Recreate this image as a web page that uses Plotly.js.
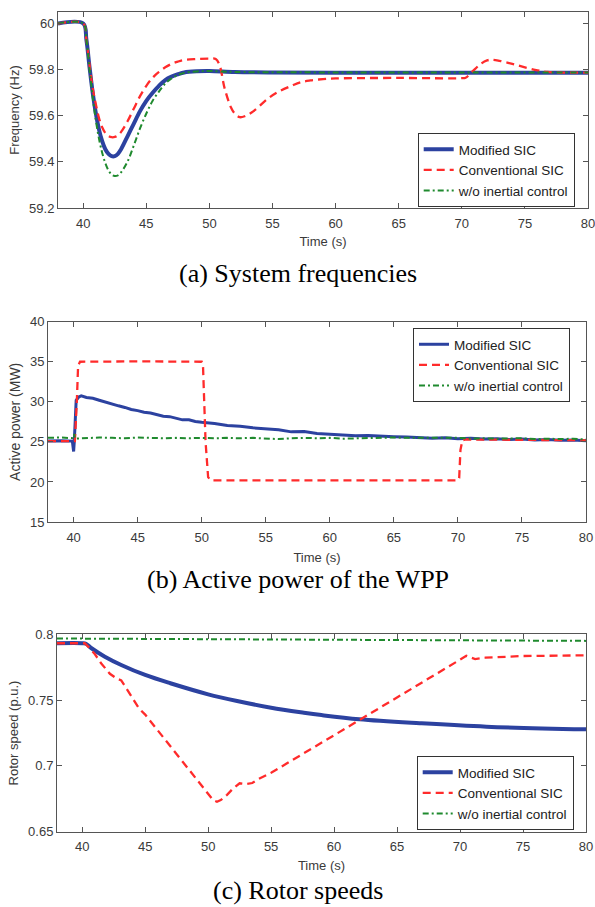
<!DOCTYPE html>
<html>
<head>
<meta charset="utf-8">
<script src="https://cdn.plot.ly/plotly-3.0.1.min.js"></script>
<style>
  html, body { margin: 0; padding: 0; background: #fff; }
  #chart { width: 595px; height: 907px; }
</style>
</head>
<body>
<div id="chart"></div>
<script>
// ---------- Series names ----------
const seriesNames = ["Modified SIC", "Conventional SIC", "w/o inertial control"];
const captions = ["(a) System frequencies", "(b) Active power of the WPP", "(c) Rotor speeds"];
const xTicks = [40, 45, 50, 55, 60, 65, 70, 75, 80];

// ---------- (a) System frequencies (Hz) ----------
const fModT = [38, 40, 40.25, 40.5, 40.75, 41, 41.25, 41.5, 41.75, 42, 42.25, 42.5, 42.75, 43, 43.5, 44, 44.5, 45, 45.5, 46, 46.5, 47, 47.5, 48, 49, 50, 52, 55, 60, 70, 80];
const fModV = [60, 60, 59.93, 59.81, 59.70, 59.61, 59.54, 59.49, 59.455, 59.435, 59.425, 59.425, 59.435, 59.455, 59.51, 59.565, 59.62, 59.665, 59.70, 59.73, 59.755, 59.77, 59.78, 59.788, 59.793, 59.794, 59.79, 59.788, 59.787, 59.787, 59.787];

const fConT = [38, 40, 40.25, 40.5, 40.75, 41, 41.25, 41.5, 41.75, 42, 42.25, 42.5, 42.75, 43, 43.5, 44, 44.5, 45, 45.5, 46, 46.5, 47, 47.5, 48, 49, 50, 50.5, 50.8, 51.2, 51.7, 52, 52.4, 52.8, 53.5, 54.6, 55.5, 56.5, 57.2, 58, 59, 60, 65, 70, 70.3, 70.8, 71.5, 72, 72.4, 73, 74, 75, 76, 76.8, 78, 80];
const fConV = [60, 60, 59.93, 59.82, 59.72, 59.65, 59.59, 59.55, 59.525, 59.512, 59.507, 59.508, 59.515, 59.53, 59.575, 59.63, 59.685, 59.73, 59.765, 59.79, 59.81, 59.825, 59.835, 59.842, 59.846, 59.848, 59.846, 59.82, 59.72, 59.637, 59.61, 59.594, 59.598, 59.62, 59.673, 59.705, 59.73, 59.745, 59.753, 59.759, 59.762, 59.764, 59.763, 59.765, 59.79, 59.825, 59.84, 59.843, 59.838, 59.825, 59.81, 59.797, 59.79, 59.787, 59.787];

const fNoT = [38, 40, 40.25, 40.5, 40.75, 41, 41.25, 41.5, 41.75, 42, 42.25, 42.5, 42.75, 43, 43.5, 44, 44.5, 45, 45.5, 46, 46.5, 47, 47.5, 48, 49, 50, 52, 60, 70, 80];
const fNoV = [60, 60, 59.93, 59.80, 59.68, 59.58, 59.50, 59.44, 59.395, 59.363, 59.345, 59.339, 59.342, 59.355, 59.40, 59.47, 59.545, 59.61, 59.665, 59.705, 59.74, 59.762, 59.777, 59.786, 59.792, 59.794, 59.79, 59.788, 59.788, 59.788];

// ---------- (b) Active power of the WPP (MW) ----------
const pModT = [38, 39, 39.9, 40.0, 40.05, 40.2, 40.4, 40.6, 41, 41.5, 42, 42.5, 43, 43.5, 44, 44.5, 45, 45.5, 46, 46.5, 47, 47.5, 48, 48.5, 49, 49.5, 50, 51, 52, 53, 54, 55, 56, 57, 58, 59, 60, 61, 62, 63, 64, 65, 66, 67, 68, 69, 70, 71, 72, 73, 74, 75, 76, 77, 78, 79, 80];
const pModV = [25.1, 25.15, 25.1, 23.8, 25.0, 30.2, 30.6, 30.75, 30.55, 30.45, 30.2, 29.95, 29.7, 29.5, 29.3, 29.05, 28.9, 28.7, 28.6, 28.4, 28.2, 28.15, 27.95, 27.75, 27.75, 27.55, 27.45, 27.3, 27.05, 26.95, 26.75, 26.65, 26.5, 26.25, 26.3, 26.05, 25.95, 25.9, 25.75, 25.8, 25.7, 25.65, 25.6, 25.55, 25.45, 25.5, 25.4, 25.45, 25.35, 25.4, 25.3, 25.35, 25.25, 25.3, 25.2, 25.25, 25.15];

const pConT = [38, 40.1, 40.25, 40.35, 40.5, 45, 50, 50.1, 50.3, 50.5, 50.7, 60, 70, 70.1, 70.2, 70.35, 70.6, 80];
const pConV = [25.1, 25.1, 30, 34.5, 35, 35.05, 35.0, 34.5, 25, 20.6, 20.2, 20.2, 20.2, 20.5, 24, 25.2, 25.3, 25.2];

const pNoT = [38, 39, 40, 40.05, 40.1, 41, 42, 43, 44, 45, 46, 47, 48, 49, 50, 51, 52, 53, 54, 55, 56, 57, 58, 59, 60, 61, 62, 63, 64, 65, 66, 67, 68, 69, 70, 71, 72, 73, 74, 75, 76, 77, 78, 79, 80];
const pNoV = [25.5, 25.55, 25.45, 26.0, 25.4, 25.5, 25.55, 25.5, 25.45, 25.55, 25.5, 25.45, 25.5, 25.45, 25.5, 25.45, 25.5, 25.45, 25.5, 25.4, 25.35, 25.45, 25.5, 25.45, 25.5, 25.4, 25.45, 25.5, 25.5, 25.55, 25.5, 25.5, 25.45, 25.45, 25.5, 25.4, 25.45, 25.4, 25.4, 25.45, 25.35, 25.4, 25.35, 25.4, 25.3];

// ---------- (c) Rotor speeds (p.u.) ----------
const wModT = [38, 40, 40.3, 40.74, 41.8, 43.1, 45, 47, 50, 52.3, 55, 57.6, 59, 62, 66.8, 72.1, 80];
const wModV = [0.7932, 0.7932, 0.7928, 0.7894, 0.783, 0.7767, 0.7691, 0.7628, 0.7544, 0.7493, 0.7442, 0.7404, 0.7386, 0.7354, 0.7324, 0.7298, 0.7278];

const wConT = [38, 40.2, 40.6, 41, 41.5, 42.2, 42.7, 43.1, 43.5, 44.5, 45, 46, 47, 47.5, 48.5, 49.5, 50, 50.4, 50.7, 51, 51.5, 52, 52.5, 53, 53.5, 54, 55, 56.5, 60, 62, 65, 68, 70.5, 71.2, 72, 75, 80];
const wConV = [0.7932, 0.7932, 0.7894, 0.785, 0.778, 0.770, 0.7666, 0.765, 0.759, 0.7438, 0.739, 0.727, 0.715, 0.709, 0.697, 0.685, 0.6792, 0.674, 0.6728, 0.674, 0.678, 0.683, 0.6868, 0.6862, 0.687, 0.690, 0.6948, 0.7032, 0.7233, 0.7348, 0.752, 0.7692, 0.7836, 0.7812, 0.7822, 0.7835, 0.784];

const wNoT = [38, 50, 60, 70, 80];
const wNoV = [0.7968, 0.7962, 0.7957, 0.7953, 0.795];

// ---------- Styles ----------
const blue = "#2c42a0", red = "#ff2b2b", green = "#1f8a2e";
const axisColor = "#555555", textColor = "#3a3a3a";
const W = 595, H = 907;

function mk(x, y, name, color, width, dash, xa, ya, leg, shape) {
  return {x: x, y: y, name: name, type: "scatter", mode: "lines",
    line: {color: color, width: width, dash: dash, shape: shape || "linear"},
    xaxis: xa, yaxis: ya, legend: leg};
}
const dashR = "8px,5px", dashG = "6px,3px,2px,3px";

const data = [
  mk(fModT, fModV, seriesNames[0], blue, 4, "solid", "x", "y", "legend", "spline"),
  mk(fConT, fConV, seriesNames[1], red, 2.3, dashR, "x", "y", "legend", "spline"),
  mk(fNoT, fNoV, seriesNames[2], green, 2, dashG, "x", "y", "legend", "spline"),
  mk(pModT, pModV, seriesNames[0], blue, 3, "solid", "x2", "y2", "legend2"),
  mk(pConT, pConV, seriesNames[1], red, 2.3, dashR, "x2", "y2", "legend2"),
  mk(pNoT, pNoV, seriesNames[2], green, 2, dashG, "x2", "y2", "legend2"),
  mk(wModT, wModV, seriesNames[0], blue, 4, "solid", "x3", "y3", "legend3", "spline"),
  mk(wConT, wConV, seriesNames[1], red, 2.3, dashR, "x3", "y3", "legend3"),
  mk(wNoT, wNoV, seriesNames[2], green, 2, dashG, "x3", "y3", "legend3")
];

const fam = "Liberation Sans, Arial, sans-serif";
const font = {family: fam, size: 13, color: textColor};

function xax(left, right, anchor, standoff) {
  return {domain: [left / W, right / W], range: [38, 80], tickvals: xTicks, anchor: anchor,
    showline: true, linecolor: axisColor, linewidth: 1, mirror: "ticks",
    ticks: "inside", ticklen: 5, tickcolor: axisColor, showgrid: false, zeroline: false,
    ticklabeloverflow: "allow", ticklabelstandoff: 3,
    tickfont: {family: fam, size: 13, color: textColor},
    title: {text: "Time (s)", font: {family: fam, size: 13, color: textColor}, standoff: standoff}};
}
function yax(top, bottom, range, tickvals, title, anchor, tsize) {
  return {domain: [1 - bottom / H, 1 - top / H], range: range, tickvals: tickvals, anchor: anchor,
    showline: true, linecolor: axisColor, linewidth: 1, mirror: "ticks",
    ticks: "inside", ticklen: 5, tickcolor: axisColor, showgrid: false, zeroline: false,
    ticklabeloverflow: "allow",
    tickfont: {family: fam, size: 13, color: textColor},
    title: {text: title, font: {family: fam, size: tsize, color: textColor}, standoff: 6}};
}
function leg(left, top) {
  return {x: left / W, y: 1 - top / H, xanchor: "left", yanchor: "top",
    bgcolor: "#ffffff", bordercolor: "#333333", borderwidth: 1,
    font: {family: fam, size: 13.5, color: "#222"}, tracegroupgap: 0};
}
function cap(text, yc) {
  return {text: text, x: 0.5, y: 1 - yc / H, xref: "paper", yref: "paper", showarrow: false,
    xanchor: "center", yanchor: "middle",
    font: {family: "Liberation Serif, Times New Roman, serif", size: 26, color: "#000"}};
}

const layout = {
  width: W, height: H, margin: {l: 0, r: 0, t: 0, b: 0},
  paper_bgcolor: "#ffffff", plot_bgcolor: "#ffffff", font: font,
  xaxis: xax(58, 588, "y", 7),
  yaxis: yax(12, 208, [59.2, 60.05], [59.2, 59.4, 59.6, 59.8, 60], "Frequency (Hz)", "x", 13),
  xaxis2: xax(48, 586, "y2", 9),
  yaxis2: yax(321.7, 522, [15, 40], [15, 20, 25, 30, 35, 40], "Active power (MW)", "x2", 14),
  xaxis3: xax(57, 586, "y3", 7),
  yaxis3: yax(634.3, 831.7, [0.65, 0.8], [0.65, 0.7, 0.75, 0.8], "Rotor speed (p.u.)", "x3", 13),
  legend: leg(417.7, 133),
  legend2: leg(413, 328),
  legend3: leg(416.7, 756),
  annotations: [cap(captions[0], 273), cap(captions[1], 579), cap(captions[2], 890)]
};

Plotly.newPlot("chart", data, layout, {displayModeBar: false, staticPlot: true});
</script>
</body>
</html>
